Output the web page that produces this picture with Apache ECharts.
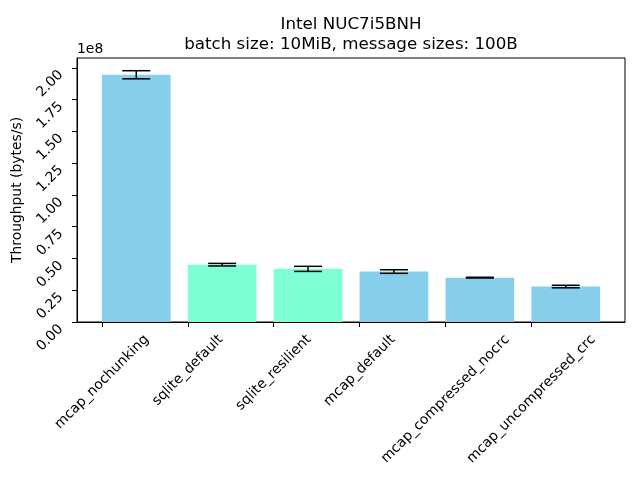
<!DOCTYPE html>
<html>
<head>
<meta charset="utf-8">
<script src="https://cdn.jsdelivr.net/npm/echarts@6/dist/echarts.min.js"></script>
<style>
  html, body { margin: 0; padding: 0; background: #fff; }
  #chart { width: 640px; height: 480px; }
</style>
</head>
<body>
<div id="chart"></div>
<script>
// benchmark results, bytes/s
var categories = ['mcap_nochunking', 'sqlite_default', 'sqlite_resilient', 'mcap_default', 'mcap_compressed_nocrc', 'mcap_uncompressed_crc'];
var throughput = [1.945e8, 0.451e8, 0.418e8, 0.397e8, 0.349e8, 0.279e8];
var errors = [0.032e8, 0.010e8, 0.020e8, 0.014e8, 0.003e8, 0.010e8];
var yTicks = [0, 0.25e8, 0.5e8, 0.75e8, 1.0e8, 1.25e8, 1.5e8, 1.75e8, 2.0e8];

var font = 'DejaVu Sans';
var labelSize = 13.9;
var chart = echarts.init(document.getElementById('chart'));

// text width, used to centre the rotated tick labels like matplotlib does
var ctx = document.createElement('canvas').getContext('2d');
ctx.font = labelSize + 'px "' + font + '"';
var textWidth = function (s) { return ctx.measureText(s).width; };

var barData = categories.map(function (c, i) { return [i, throughput[i]]; });
var errData = categories.map(function (c, i) {
    return [i + 0.4, throughput[i] - errors[i], throughput[i] + errors[i]];
});
var tickPos = categories.map(function (c, i) { return i; });

var option = {
    backgroundColor: '#fff',
    animation: false,
    title: {
        text: 'Intel NUC7i5BNH\nbatch size: 10MiB, message sizes: 100B',
        left: 346,
        top: 10,
        textAlign: 'center',
        textStyle: { fontFamily: font, fontSize: 16.7, fontWeight: 'normal', color: '#000', lineHeight: 19.5 }
    },
    grid: {
        left: 77, right: 15, top: 58, bottom: 158,
        show: true, borderColor: '#000', borderWidth: 1
    },
    graphic: [{
        type: 'text', left: 77, top: 42,
        style: { text: '1e8', font: labelSize + 'px "DejaVu Sans"', fill: '#000' }
    }],
    xAxis: {
        type: 'value',
        min: -0.29, max: 6.09,
        z: 10,
        splitLine: { show: false },
        axisLine: { onZero: false, lineStyle: { color: '#000' } },
        axisTick: { customValues: tickPos, length: 5, lineStyle: { color: '#000' } },
        axisLabel: { show: false }
    },
    yAxis: {
        type: 'value',
        min: 0, max: 2.077e8,
        z: 10,
        name: 'Throughput (bytes/s)',
        nameLocation: 'middle',
        nameRotate: 90,
        nameGap: 46,
        nameTextStyle: { fontFamily: font, fontSize: labelSize, color: '#000' },
        splitLine: { show: false },
        axisLine: { show: true, onZero: false, lineStyle: { color: '#000' } },
        axisTick: { show: true, customValues: yTicks, length: 5, lineStyle: { color: '#000' } },
        axisLabel: {
            customValues: yTicks,
            rotate: 45,
            margin: 11,
            padding: [0, 7, 0, 0],
            fontFamily: font, fontSize: labelSize, color: '#000',
            formatter: function (v) { return (v / 1e8).toFixed(2); }
        }
    },
    series: [{
        type: 'custom',
        data: barData,
        renderItem: function (params, api) {
            var i = api.value(0);
            var p0 = api.coord([i, 0]);
            var p1 = api.coord([i + 0.8, api.value(1)]);
            var name = categories[i];
            return {
                type: 'rect',
                shape: { x: p0[0], y: p1[1], width: p1[0] - p0[0], height: p0[1] - p1[1] },
                style: { fill: name.indexOf('sqlite') === 0 ? '#7FFFD4' : '#87CEEB' }
            };
        }
    }, {
        type: 'custom',
        data: errData,
        z: 5,
        renderItem: function (params, api) {
            var lo = api.coord([api.value(0), api.value(1)]);
            var hi = api.coord([api.value(0), api.value(2)]);
            var w = 14;
            var st = { stroke: '#000', lineWidth: 1.5 };
            return {
                type: 'group',
                children: [
                    { type: 'line', shape: { x1: lo[0], y1: lo[1], x2: hi[0], y2: hi[1] }, style: st },
                    { type: 'line', shape: { x1: lo[0] - w, y1: lo[1], x2: lo[0] + w, y2: lo[1] }, style: st },
                    { type: 'line', shape: { x1: hi[0] - w, y1: hi[1], x2: hi[0] + w, y2: hi[1] }, style: st }
                ]
            };
        }
    }, {
        // category tick labels, rotated 45deg with the box centred under the tick
        type: 'custom',
        data: tickPos,
        clip: false,
        silent: true,
        renderItem: function (params, api) {
            var i = api.value(0);
            var p = api.coord([i, 0]);
            var txt = categories[i];
            var off = 15.3 + textWidth(txt) / (2 * Math.SQRT2);
            return {
                type: 'text',
                x: p[0],
                y: p[1] + off,
                rotation: Math.PI / 4,
                style: {
                    text: txt,
                    fontFamily: font,
                    fontSize: labelSize,
                    fill: '#000',
                    align: 'center',
                    verticalAlign: 'middle'
                }
            };
        }
    }]
};

chart.setOption(option);
</script>
</body>
</html>
